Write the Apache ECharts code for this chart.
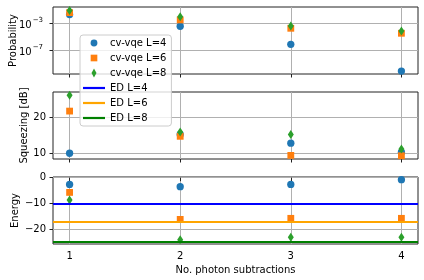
<!DOCTYPE html>
<html><head><meta charset="utf-8">
<script src="https://cdn.jsdelivr.net/npm/echarts@6/dist/echarts.min.js"></script>
<style>html,body{margin:0;padding:0;background:#fff}#c{width:424px;height:280px}</style>
</head><body><div id="c"></div>
<script>
// ---- data ----
const photonSubtractions = [1, 2, 3, 4];
const probL4 = [1.9e-2, 3.6e-4, 7.8e-7, 8.5e-11];
const probL6 = [3.7e-2, 3.1e-3, 1.8e-4, 3.3e-5];
const probL8 = [7.4e-2, 9.5e-3, 4.0e-4, 7.2e-5];
const sqzL4 = [10.0, 15.2, 12.8, 10.3];
const sqzL6 = [21.7, 14.7, 9.4, 9.3];
const sqzL8 = [26.1, 15.9, 15.2, 11.2];
const energyL4 = [-2.6, -3.5, -2.6, -0.8];
const energyL6 = [-5.7, -16.1, -15.7, -15.7];
const energyL8 = [-8.6, -24.0, -23.0, -23.0];
const edL4 = -10.2, edL6 = -17.2, edL8 = -24.6;
const xTicks = [1, 2, 3, 4];
const probTickExponents = [-7, -3];
const sqzTicks = [10, 20];
const energyTicks = [-20, -10, 0];

// ---- styling ----
const font = 'DejaVu Sans';
const C4 = '#1f77b4', C6 = '#ff7f0e', C8 = '#2ca02c';
const ED4 = '#0000ff', ED6 = '#ffa500', ED8 = '#008000';
const spine = '#222';
const gridC = '#b0b0b0';
const tops = [7, 92, 177];
const minus = v => (v < 0 ? '\u2212' + (-v) : String(v));

const grids = tops.map(t => ({left: 53, width: 365, top: t, height: 67, show: true,
  outerBoundsMode: 'none', containLabel: false,
  borderColor: spine, borderWidth: 1, backgroundColor: 'transparent'}));

function xAxis(i) {
  return {type: 'value', gridIndex: i, min: 0.85, max: 4.15,
    axisLine: {show: false},
    axisTick: {show: true, customValues: xTicks, length: 3.5, lineStyle: {color: spine}},
    axisLabel: {show: i === 2, customValues: xTicks, margin: 7, color: '#000', fontFamily: font, fontSize: 10},
    splitLine: {show: true, lineStyle: {color: gridC, width: 1}},
    name: i === 2 ? 'No. photon subtractions' : '', nameLocation: 'middle', nameGap: 21,
    nameMoveOverlap: false,
    nameTextStyle: {color: '#000', fontFamily: font, fontSize: 10}};
}
function yAxis(i, min, max, ticks, name, gap, margin, fmt, rich) {
  return {type: 'value', gridIndex: i, min, max,
    axisLine: {show: false},
    axisTick: {show: true, customValues: ticks, length: 3.5, lineStyle: {color: spine}},
    axisLabel: {customValues: ticks, margin, color: '#000', fontFamily: font, fontSize: 10, formatter: fmt, rich},
    splitLine: {show: true, lineStyle: {color: gridC, width: 1}},
    name, nameLocation: 'middle', nameGap: gap, nameRotate: 90, nameMoveOverlap: false,
    nameTextStyle: {color: '#000', fontFamily: font, fontSize: 10}};
}

const marker = {
  circle: {symbol: 'circle', symbolSize: 7.3},
  square: {symbol: 'rect', symbolSize: 6.8},
  diamond: {symbol: 'diamond', symbolSize: [6, 9]}
};
function scat(name, vals, i, color, mk, transform) {
  return Object.assign({type: 'scatter', name, xAxisIndex: i, yAxisIndex: i,
    itemStyle: {color, opacity: 1},
    data: photonSubtractions.map((x, k) => [x, transform ? transform(vals[k]) : vals[k]])}, mk);
}
function ed(name, val, color) {
  return {type: 'line', name, xAxisIndex: 2, yAxisIndex: 2, data: [], showSymbol: false,
    lineStyle: {color, width: 2}, itemStyle: {color},
    markLine: {silent: true, symbol: ['none', 'none'], label: {show: false}, animation: false,
      lineStyle: {color, width: 2, type: 'solid'}, data: [{yAxis: val}]}};
}
const lg = Math.log10;
const pad = 'M0,0L0,0M10,10L10,10';
const legendItems = [
  {name: 'cv-vqe L=4', icon: 'path://' + pad + 'M1.2,5a3.8,3.8 0 1,0 7.6,0a3.8,3.8 0 1,0 -7.6,0z', itemStyle: {color: C4}},
  {name: 'cv-vqe L=6', icon: 'path://' + pad + 'M1.3,1.3h7.4v7.4h-7.4z', itemStyle: {color: C6}},
  {name: 'cv-vqe L=8', icon: 'path://' + pad + 'M5,0L7.8,5L5,10L2.2,5z', itemStyle: {color: C8}},
  {name: 'ED L=4', icon: 'path://M0,0h22v2.2H0z', itemStyle: {color: ED4}},
  {name: 'ED L=6', icon: 'path://M0,0h22v2.2H0z', itemStyle: {color: ED6}},
  {name: 'ED L=8', icon: 'path://M0,0h22v2.2H0z', itemStyle: {color: ED8}}
];

const chart = echarts.init(document.getElementById('c'), null, {renderer: 'canvas'});
chart.setOption({
  animation: false,
  backgroundColor: '#fff',
  grid: grids,
  xAxis: [xAxis(0), xAxis(1), xAxis(2)],
  yAxis: [
    yAxis(0, -10.5, -0.6, probTickExponents, 'Probability', 35, 10,
      v => '{b|10}{s|' + minus(v) + '}',
      {b: {fontSize: 10, fontFamily: font, color: '#000', lineHeight: 14, verticalAlign: 'bottom'},
       s: {fontSize: 7, fontFamily: font, color: '#000', lineHeight: 14, verticalAlign: 'top', padding: [0, 0, 0, 1]}}),
    yAxis(1, 8.4, 27.0, sqzTicks, 'Squeezing [dB]', 24, 7, v => minus(v)),
    yAxis(2, -25.6, 0.25, energyTicks, 'Energy', 33, 7, v => minus(v))
  ],
  legend: {left: 80, top: 35, orient: 'vertical', itemWidth: 22, itemHeight: 9, itemGap: 3,
    itemTextGap: 7, padding: [2, 5, 2, 3], backgroundColor: 'rgba(255,255,255,0.8)',
    borderColor: '#cccccc', borderWidth: 1, borderRadius: 3, z: 10,
    textStyle: {fontFamily: font, fontSize: 10, color: '#000', lineHeight: 12},
    data: legendItems},
  series: [
    scat('cv-vqe L=4', probL4, 0, C4, marker.circle, lg),
    scat('cv-vqe L=6', probL6, 0, C6, marker.square, lg),
    scat('cv-vqe L=8', probL8, 0, C8, marker.diamond, lg),
    scat('cv-vqe L=4', sqzL4, 1, C4, marker.circle),
    scat('cv-vqe L=6', sqzL6, 1, C6, marker.square),
    scat('cv-vqe L=8', sqzL8, 1, C8, marker.diamond),
    scat('cv-vqe L=4', energyL4, 2, C4, marker.circle),
    scat('cv-vqe L=6', energyL6, 2, C6, marker.square),
    scat('cv-vqe L=8', energyL8, 2, C8, marker.diamond),
    ed('ED L=4', edL4, ED4),
    ed('ED L=6', edL6, ED6),
    ed('ED L=8', edL8, ED8)
  ]
});
</script></body></html>
